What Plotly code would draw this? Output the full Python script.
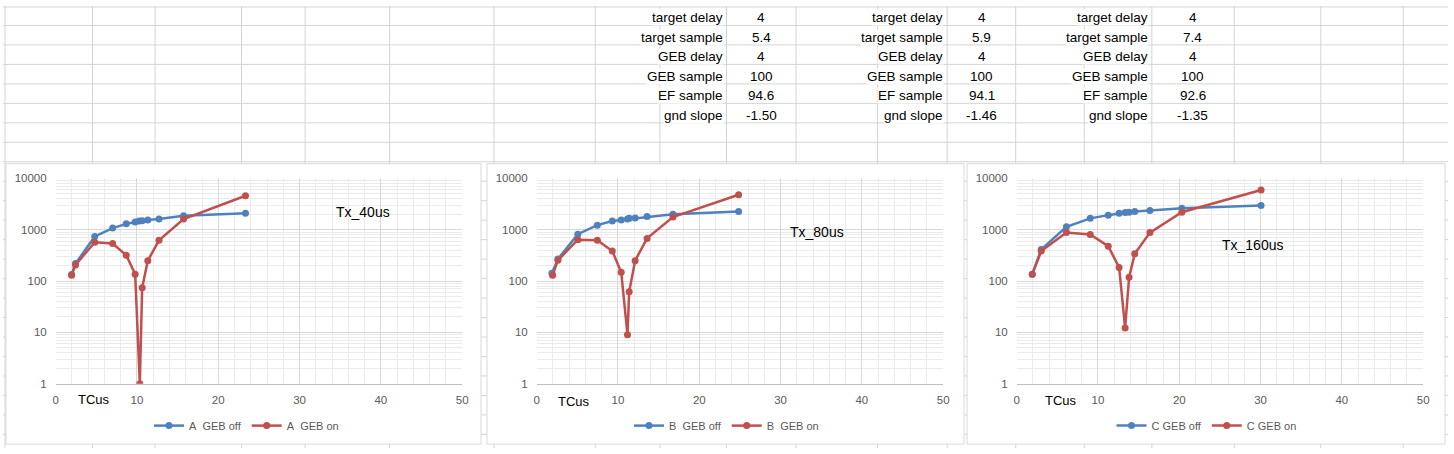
import plotly.graph_objects as go

W, H = 1454, 454

# ---------------- data ----------------
a_off_x = [1.96, 2.44, 4.81, 7.01, 8.68, 9.78, 10.27, 10.64, 11.33, 12.71, 15.73, 23.35]
a_off_y = [134, 219, 738, 1074, 1298, 1416, 1479, 1490, 1545, 1613, 1866, 2093]
a_on_x = [1.96, 2.44, 4.81, 7.01, 8.68, 9.78, 10.35, 10.64, 11.33, 12.71, 15.73, 23.35]
a_on_y = [130, 206, 569, 537, 318, 136, 1.0, 74, 249, 620, 1613, 4575]

b_off_x = [1.88, 2.61, 5.06, 7.46, 9.30, 10.40, 11.17, 11.38, 12.11, 13.58, 16.76, 24.84]
b_off_y = [142, 268, 817, 1225, 1479, 1545, 1613, 1660, 1680, 1811, 2004, 2250]
b_on_x = [1.96, 2.61, 5.06, 7.46, 9.30, 10.40, 11.17, 11.38, 12.11, 13.58, 16.76, 24.84]
b_on_y = [130, 253, 638, 620, 384, 148, 9.0, 62, 249, 677, 1759, 4780]

c_off_x = [1.92, 3.02, 6.12, 9.05, 11.26, 12.60, 13.34, 13.83, 14.52, 16.39, 20.31, 30.06]
c_off_y = [136, 413, 1140, 1660, 1919, 2093, 2154, 2180, 2250, 2350, 2602, 2963]
c_on_x = [1.92, 3.02, 6.12, 9.05, 11.26, 12.60, 13.34, 13.83, 14.52, 16.39, 20.31, 30.06]
c_on_y = [136, 384, 878, 805, 478, 184, 12.2, 119, 338, 878, 2186, 5940]

series_names = [("A\u00a0 GEB off", "A\u00a0 GEB on"),
                ("B\u00a0 GEB off", "B\u00a0 GEB on"),
                ("C GEB off", "C GEB on")]
chart_labels = ["Tx_40us", "Tx_80us", "Tx_160us"]
x_title = "TCus"

table_labels = ["target delay", "target sample", "GEB delay", "GEB sample", "EF sample", "gnd slope"]
table1_values = ["4", "5.4", "4", "100", "94.6", "-1.50"]
table2_values = ["4", "5.9", "4", "100", "94.1", "-1.46"]
table3_values = ["4", "7.4", "4", "100", "92.6", "-1.35"]

y_tickvals = [1, 10, 100, 1000, 10000]
y_ticktext = ["1", "10", "100", "1000", "10000"]
x_tickvals = [0, 10, 20, 30, 40, 50]

# ---------------- styling ----------------
BLUE = "#4F81BD"
RED = "#C0504D"
GRID = "#D9D9D9"
MINOR = "#EBEBEB"
SHEET = "#D4D4D4"
TICKC = "#595959"
FONT = "Liberation Sans"


def px(x):
    return x / W


def py(y):
    return 1 - y / H


fig = go.Figure()

data = [(a_off_x, a_off_y, a_on_x, a_on_y),
        (b_off_x, b_off_y, b_on_x, b_on_y),
        (c_off_x, c_off_y, c_on_x, c_on_y)]

plot_left = [53, 537, 1020]
plot_right = [462, 946, 1429]
plot_top, plot_bottom = 177, 388
box = [(3, 481), (487, 967), (970, 1451)]
box_top, box_bottom = 162, 450
legend_cx = [245, 728, 1211]
label_pos = [(362, 212), (819, 232), (1257, 246)]
tc_pos = [(92, 404), (575, 406), (1065, 405)]

minor_y = [k * 10 ** d for d in range(4) for k in range(2, 10)]

shapes = []
# spreadsheet grid
cols = [2, 90, 153, 240, 304, 389, 494, 596, 661, 728, 798, 880, 950, 1019, 1088, 1156, 1239, 1326, 1409]
for cx in cols:
    shapes.append(dict(type="line", xref="paper", yref="paper", x0=px(cx), x1=px(cx), y0=0, y1=1,
                       line=dict(color=SHEET, width=1), layer="below"))
for ry in [1] + list(range(20, 454, 20)):
    shapes.append(dict(type="line", xref="paper", yref="paper", x0=0, x1=1, y0=py(ry), y1=py(ry),
                       line=dict(color=SHEET, width=1), layer="below"))
# chart boxes
for (l, r) in box:
    shapes.append(dict(type="rect", xref="paper", yref="paper", x0=px(l), x1=px(r),
                       y0=py(box_bottom), y1=py(box_top),
                       fillcolor="white", line=dict(color=GRID, width=1), layer="below"))

annotations = []
for i, (xo, yo, xn, yn) in enumerate(data):
    sfx = "" if i == 0 else str(i + 1)
    leg = "legend" + sfx
    fig.add_trace(go.Scatter(x=xo, y=yo, mode="lines+markers", name=series_names[i][0],
                             line=dict(color=BLUE, width=2.5), marker=dict(color=BLUE, size=7),
                             xaxis="x" + sfx, yaxis="y" + sfx, legend=leg))
    fig.add_trace(go.Scatter(x=xn, y=yn, mode="lines+markers", name=series_names[i][1],
                             line=dict(color=RED, width=2.5), marker=dict(color=RED, size=7),
                             xaxis="x" + sfx, yaxis="y" + sfx, legend=leg))
    fig.layout["xaxis" + sfx] = dict(
        domain=[px(plot_left[i]), px(plot_right[i])], anchor="y" + sfx,
        range=[0, 50], tickvals=x_tickvals, showgrid=True, gridcolor=GRID, gridwidth=1,
        minor=dict(dtick=2, showgrid=True, gridcolor=MINOR, gridwidth=1),
        showline=True, linecolor="#BFBFBF", linewidth=1, zeroline=False,
        ticks="", tickfont=dict(family=FONT, size=11.5, color=TICKC), ticklabelstandoff=5,
        fixedrange=True)
    fig.layout["yaxis" + sfx] = dict(
        domain=[py(plot_bottom), py(plot_top)], anchor="x" + sfx, type="log",
        range=[0, 4], tickvals=y_tickvals, ticktext=y_ticktext,
        showgrid=True, gridcolor=GRID, gridwidth=1,
        minor=dict(tickvals=minor_y, showgrid=True, gridcolor=MINOR, gridwidth=1),
        showline=False, zeroline=False, ticks="",
        tickfont=dict(family=FONT, size=11.5, color=TICKC), ticklabelstandoff=8,
        fixedrange=True)
    fig.layout[leg] = dict(orientation="h", x=px(legend_cx[i]), xanchor="center",
                           y=py(431), yanchor="middle", bgcolor="rgba(0,0,0,0)",
                           font=dict(family=FONT, size=11, color=TICKC),
                           itemwidth=30, tracegroupgap=0)
    annotations.append(dict(text=chart_labels[i], xref="paper", yref="paper",
                            x=px(label_pos[i][0]), y=py(label_pos[i][1]),
                            xanchor="center", yanchor="middle", showarrow=False,
                            font=dict(family=FONT, size=14, color="black")))
    annotations.append(dict(text=x_title, xref="paper", yref="paper",
                            x=px(tc_pos[i][0]), y=py(tc_pos[i][1]),
                            xanchor="center", yanchor="middle", showarrow=False,
                            font=dict(family=FONT, size=13, color="black")))

# tables
label_right = [725, 947, 1153]
value_center = [763, 985, 1197]
tables = [table1_values, table2_values, table3_values]
for t in range(3):
    for r, lab in enumerate(table_labels):
        yc = 12 + 20 * r
        annotations.append(dict(text=lab, xref="paper", yref="paper",
                                x=px(label_right[t]), y=py(yc), xanchor="right", yanchor="middle",
                                showarrow=False, bgcolor="white", borderpad=0,
                                font=dict(family=FONT, size=13.5, color="black")))
        annotations.append(dict(text=tables[t][r], xref="paper", yref="paper",
                                x=px(value_center[t]), y=py(yc), xanchor="center", yanchor="middle",
                                showarrow=False,
                                font=dict(family=FONT, size=13.5, color="black")))

fig.update_layout(width=W, height=H, margin=dict(l=0, r=0, t=0, b=0),
                  paper_bgcolor="white", plot_bgcolor="rgba(0,0,0,0)",
                  shapes=shapes, annotations=annotations, showlegend=True,
                  font=dict(family=FONT))

post = (
    "var h=document.documentElement,b=document.body;"
    "h.style.margin='0';h.style.padding='0';h.style.overflow='hidden';"
    "b.style.margin='0';b.style.padding='0';b.style.overflow='hidden';"
    "var d=document.getElementById('{plot_id}');"
    "d.style.position='fixed';d.style.left='0px';d.style.top='0px';"
)
fig.write_html("out.html", config={"displayModeBar": False}, post_script=post)
